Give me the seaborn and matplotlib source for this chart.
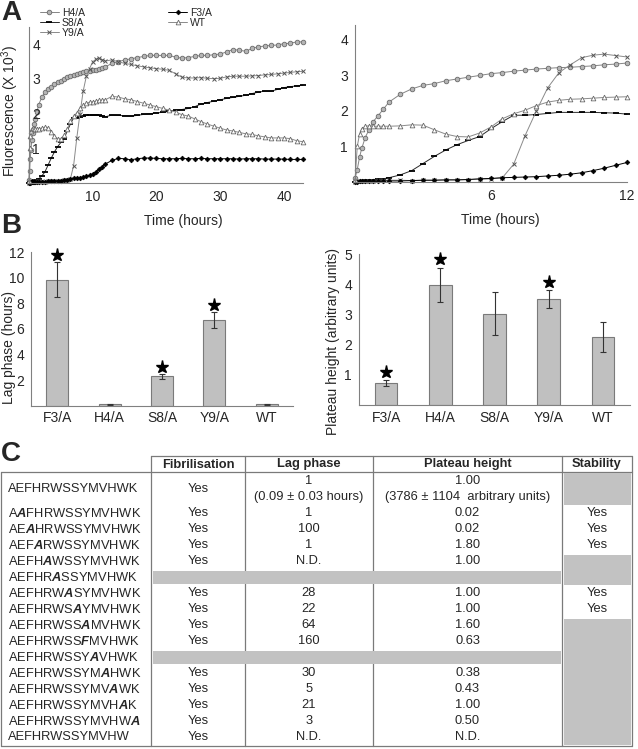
import matplotlib
matplotlib.use("Agg")
import numpy as np
import pandas as pd
import matplotlib.pyplot as plt
import seaborn as sns
from matplotlib.patches import Rectangle

sns.set_style("white")
plt.rcParams["font.family"] = ["Liberation Sans", "DejaVu Sans"]
plt.rcParams["mathtext.fontset"] = "custom"
plt.rcParams["mathtext.rm"] = "Liberation Sans"
plt.rcParams["mathtext.it"] = "Liberation Sans:italic"
plt.rcParams["mathtext.bf"] = "Liberation Sans:bold:italic"

# ---------------- data: panel A (fluorescence x10^3 vs time) ----------------
time_h = [0, 0.1, 0.2, 0.3, 0.45, 0.6, 0.8, 1.0, 1.25, 1.5,
          2, 2.5, 3, 3.5, 4, 4.5, 5, 5.5, 6, 6.5,
          7, 7.5, 8, 8.5, 9, 9.5, 10, 10.5, 11, 11.5, 12,
          13, 14, 15, 16, 17, 18, 19, 20, 21, 22, 23, 24, 25, 26, 27, 28,
          29, 30, 31, 32, 33, 34, 35, 36, 37, 38, 39, 40, 41, 42, 43]
h4a = [0.10, 0.35, 0.70, 0.95, 1.25, 1.45, 1.70, 1.85, 2.05, 2.25,
       2.47, 2.62, 2.72, 2.77, 2.85, 2.90, 2.95, 3.00, 3.05, 3.08,
       3.12, 3.15, 3.18, 3.20, 3.22, 3.23, 3.25, 3.27, 3.30, 3.32, 3.35,
       3.45, 3.50, 3.55, 3.58, 3.62, 3.65, 3.68, 3.68, 3.68, 3.68, 3.63, 3.60, 3.62, 3.65, 3.68, 3.68,
       3.70, 3.72, 3.78, 3.85, 3.83, 3.80, 3.88, 3.93, 3.95, 3.97, 3.98, 4.02, 4.03, 4.07, 4.07]
s8a = [0.00, 0.02, 0.03, 0.04, 0.05, 0.06, 0.07, 0.08, 0.09, 0.12,
       0.20, 0.32, 0.52, 0.72, 0.90, 1.05, 1.17, 1.28, 1.50, 1.70,
       1.88, 1.88, 1.90, 1.93, 1.96, 1.96, 1.96, 1.96, 1.95, 1.94, 1.91,
       1.96, 1.95, 1.94, 1.93, 1.95, 1.98, 2.00, 2.02, 2.04, 2.07, 2.10, 2.12, 2.15, 2.20, 2.28, 2.32,
       2.36, 2.40, 2.44, 2.47, 2.50, 2.53, 2.58, 2.62, 2.65, 2.65, 2.70, 2.75, 2.78, 2.80, 2.82]
y9a = [0.00, 0.02, 0.03, 0.03, 0.04, 0.04, 0.04, 0.05, 0.05, 0.05,
       0.05, 0.04, 0.05, 0.05, 0.06, 0.06, 0.07, 0.08, 0.09, 0.12,
       0.50, 1.30, 2.00, 2.65, 3.08, 3.30, 3.50, 3.57, 3.60, 3.56, 3.52,
       3.55, 3.50, 3.45, 3.42, 3.38, 3.35, 3.32, 3.30, 3.28, 3.25, 3.15, 3.05, 3.03, 3.03, 3.04, 3.02,
       3.01, 3.02, 3.06, 3.08, 3.08, 3.08, 3.09, 3.10, 3.12, 3.13, 3.15, 3.17, 3.19, 3.21, 3.22]
f3a = [0.00, 0.01, 0.02, 0.02, 0.02, 0.03, 0.03, 0.03, 0.03, 0.03,
       0.03, 0.04, 0.05, 0.05, 0.06, 0.06, 0.07, 0.09, 0.10, 0.12,
       0.13, 0.14, 0.15, 0.17, 0.19, 0.22, 0.26, 0.32, 0.39, 0.47, 0.55,
       0.65, 0.71, 0.70, 0.67, 0.70, 0.72, 0.72, 0.71, 0.70, 0.70, 0.70, 0.71, 0.70, 0.70, 0.71, 0.70,
       0.70, 0.70, 0.70, 0.70, 0.69, 0.70, 0.70, 0.70, 0.69, 0.69, 0.69, 0.69, 0.68, 0.68, 0.68]
wt = [0.05, 1.00, 1.35, 1.50, 1.57, 1.58, 1.57, 1.57, 1.57, 1.57,
      1.58, 1.61, 1.60, 1.47, 1.35, 1.28, 1.27, 1.38, 1.55, 1.78,
      1.92, 2.02, 2.15, 2.25, 2.30, 2.33, 2.34, 2.36, 2.38, 2.39, 2.40,
      2.50, 2.48, 2.43, 2.40, 2.35, 2.30, 2.25, 2.20, 2.15, 2.10, 2.05, 1.97, 1.93, 1.85, 1.77, 1.70,
      1.64, 1.58, 1.53, 1.50, 1.46, 1.42, 1.40, 1.36, 1.33, 1.30, 1.30, 1.30, 1.28, 1.22, 1.19]

series_names = ["H4/A", "S8/A", "Y9/A", "F3/A", "WT"]

# ---------------- data: panel B ----------------
mutants = ["F3/A", "H4/A", "S8/A", "Y9/A", "WT"]
lag_mean = [9.85, 0.09, 2.30, 6.70, 0.09]
lag_err = [1.35, 0.03, 0.20, 0.65, 0.03]
lag_signif = [True, False, True, True, False]
plateau_mean = [0.73, 3.98, 3.02, 3.50, 2.25]
plateau_err = [0.10, 0.57, 0.71, 0.30, 0.50]
plateau_signif = [True, True, False, True, False]

# ---------------- data: panel C (table) ----------------
col_headers = ["Fibrilisation", "Lag phase", "Plateau height", "Stability"]
sequences = ["AEFHRWSSYMVHWK", "AAFHRWSSYMVHWK", "AEAHRWSSYMVHWK", "AEFARWSSYMVHWK",
             "AEFHAWSSYMVHWK", "AEFHRASSYMVHWK", "AEFHRWASYMVHWK", "AEFHRWSAYMVHWK",
             "AEFHRWSSAMVHWK", "AEFHRWSSFMVHWK", "AEFHRWSSYAVHWK", "AEFHRWSSYMAHWK",
             "AEFHRWSSYMVAWK", "AEFHRWSSYMVHAK", "AEFHRWSSYMVHWA", "AEFHRWSSYMVHW"]
mutated_pos = [None, 1, 2, 3, 4, 5, 6, 7, 8, 8, 9, 10, 11, 12, 13, None]
fibrilisation = ["Yes", "Yes", "Yes", "Yes", "Yes", None, "Yes", "Yes", "Yes", "Yes",
                 None, "Yes", "Yes", "Yes", "Yes", "Yes"]
lag_phase = ["1\n(0.09 ± 0.03 hours)", "1", "100", "1", "N.D.", None, "28", "22", "64", "160",
             None, "30", "5", "21", "3", "N.D."]
plateau_height = ["1.00\n(3786 ± 1104  arbitrary units)", "0.02", "0.02", "1.80", "1.00", None,
                  "1.00", "1.00", "1.60", "0.63", None, "0.38", "0.43", "1.00", "0.50", "N.D."]
stability = [None, "Yes", "Yes", "Yes", None, None, "Yes", "Yes", None, None,
             None, None, None, None, None, None]

# ---------------- figure ----------------
W, H = 638, 749
fig = plt.figure(figsize=(W / 100, H / 100), dpi=100)


def px_axes(x0, y0, x1, y1):
    return fig.add_axes([x0 / W, 1 - y1 / H, (x1 - x0) / W, (y1 - y0) / H])


def style(ax):
    for s in ["top", "right"]:
        ax.spines[s].set_visible(False)
    for s in ["left", "bottom"]:
        ax.spines[s].set_color("#808080")
        ax.spines[s].set_linewidth(0.8)
    ax.tick_params(axis="both", length=3, width=0.7, color="#808080",
                   labelsize=10, pad=2, direction="out")


def place_ylabel(ax, x_center_px, y_frac, x0_px, width_px):
    # put the rotated label's centre at the given pixel column
    ax.yaxis.label.set_verticalalignment("center")
    ax.yaxis.set_label_coords((x_center_px - x0_px) / width_px, y_frac)


df = pd.DataFrame({"time": time_h, "H4/A": h4a, "S8/A": s8a, "Y9/A": y9a,
                   "F3/A": f3a, "WT": wt})

line_styles = {
    "H4/A": dict(color="#858585", marker="o", markersize=3.3, markerfacecolor="#b5b5b5",
                 markeredgecolor="#6a6a6a", markeredgewidth=0.6),
    "S8/A": dict(color="#2a2a2a", marker="_", markersize=4.5, markerfacecolor="black",
                 markeredgecolor="black", markeredgewidth=1.3),
    "Y9/A": dict(color="#8a8a8a", marker="x", markersize=3.0, markerfacecolor="#555555",
                 markeredgecolor="#555555", markeredgewidth=0.7),
    "F3/A": dict(color="black", marker="D", markersize=2.4, markerfacecolor="black",
                 markeredgecolor="black", markeredgewidth=0.5),
    "WT": dict(color="#8a8a8a", marker="^", markersize=3.4, markerfacecolor="white",
               markeredgecolor="#6a6a6a", markeredgewidth=0.6),
}


def draw_curves(ax, data):
    for name in series_names:
        sns.lineplot(data=data, x="time", y=name, ax=ax, estimator=None, label=name,
                     linewidth=0.7, clip_on=False, **line_styles[name])
    if ax.get_legend() is not None:
        ax.get_legend().remove()


# Panel A left
axA1 = px_axes(29, 27, 303, 183)
draw_curves(axA1, df)
style(axA1)
axA1.set_axisbelow(False)
axA1.set_xlim(0, 43)
axA1.set_ylim(0, 4.5)
axA1.set_xticks([10, 20, 30, 40])
axA1.set_yticks([1, 2, 3, 4])
# in the reference the y tick labels of this panel sit just inside the axis line
axA1.tick_params(axis="y", direction="in", length=0, pad=-2.5)
for lab in axA1.get_yticklabels():
    lab.set_horizontalalignment("left")
axA1.set_xlabel("Time (hours)", fontsize=10)
axA1.xaxis.set_label_coords(0.565, -0.2)
axA1.set_ylabel("Fluorescence (X 10$^{\\mathrm{3}}$)", fontsize=10)
place_ylabel(axA1, 10.5, 0.46, 29, 274)

# Panel A right
axA2 = px_axes(355, 25, 627, 182)
draw_curves(axA2, df[df["time"] <= 12])
style(axA2)
axA2.set_xlim(0, 12)
axA2.set_ylim(0, 4.42)
axA2.set_xticks([6, 12])
axA2.set_yticks([1, 2, 3, 4])
axA2.set_xlabel("Time (hours)", fontsize=10)
axA2.xaxis.set_label_coords(0.535, -0.2)
axA2.set_ylabel("")

handles, labels = axA1.get_legend_handles_labels()
fig.legend(handles, labels, loc="upper left", bbox_to_anchor=(40 / W, 1 - 8 / H),
           ncol=2, fontsize=7.5, frameon=False, labelspacing=0.0, handlelength=1.8,
           handletextpad=0.3, columnspacing=8.0, borderpad=0, borderaxespad=0)


# Panel B
def bar_panel(ax, means, errs, signif, ymax, yticks, ylabel, star_off):
    sns.barplot(x=mutants, y=means, ax=ax, color="#c0c0c0", saturation=1,
                edgecolor="#7a7a7a", linewidth=0.8, width=0.42, errorbar=None)
    xs = np.arange(len(mutants))
    ax.errorbar(xs, means, yerr=errs, fmt="none", ecolor="#333333",
                elinewidth=0.8, capsize=2.2, capthick=0.8)
    tops = np.array(means) + np.array(errs) + star_off * ymax
    sel = np.array(signif)
    ax.plot(xs[sel], tops[sel], linestyle="none", marker="*", color="black",
            markersize=9.5, clip_on=False)
    style(ax)
    ax.set_xlim(-0.5, len(mutants) - 0.5)
    ax.set_ylim(0, ymax)
    ax.set_yticks(yticks)
    ax.tick_params(axis="x", length=0, pad=4)
    ax.set_ylabel(ylabel, fontsize=10)
    ax.set_xlabel("")


axB1 = px_axes(31, 252, 293, 405.6)
bar_panel(axB1, lag_mean, lag_err, lag_signif, 12, [2, 4, 6, 8, 10, 12],
          "Lag phase (hours)", 0.045)
place_ylabel(axB1, 9, 0.38, 31, 262)

axB2 = px_axes(359, 254, 630, 405)
bar_panel(axB2, plateau_mean, plateau_err, plateau_signif, 5, [1, 2, 3, 4, 5],
          "Plateau height (arbitrary units)", 0.055)
place_ylabel(axB2, 333, 0.42, 359, 271)

# Overlay in pixel units (panel letters and table)
ov = fig.add_axes([0, 0, 1, 1])
ov.set_xlim(0, W)
ov.set_ylim(H, 0)
ov.axis("off")

for letter, yc in [("A", 13), ("B", 226), ("C", 454)]:
    ov.text(1, yc, letter, fontsize=20, fontweight="bold", ha="left", va="center")

# table geometry
col_edges = [1, 151, 245, 373, 562, 632]
header_top, header_bot = 456, 472
first_h, row_h = 33.5, 16.0
n = len(sequences)
tops = [header_bot] + [header_bot + first_h + i * row_h for i in range(n - 1)]
bots = [header_bot + first_h] + [header_bot + first_h + (i + 1) * row_h for i in range(n - 1)]
table_bot = bots[-1]
gray = "#c2c2c2"
lc = "#7a7a7a"

# grid lines
for x in col_edges[1:]:
    ov.plot([x, x], [header_top, table_bot], color=lc, lw=0.9, zorder=2)
ov.plot([col_edges[0], col_edges[0]], [header_bot, table_bot], color=lc, lw=0.9, zorder=2)
ov.plot([col_edges[1], col_edges[5]], [header_top, header_top], color=lc, lw=0.9, zorder=2)
ov.plot([col_edges[0], col_edges[5]], [header_bot, header_bot], color=lc, lw=0.9, zorder=2)
ov.plot([col_edges[0], col_edges[5]], [table_bot, table_bot], color=lc, lw=0.9, zorder=2)

# header texts
for j, h in enumerate(col_headers):
    xc = (col_edges[j + 1] + col_edges[j + 2]) / 2
    ov.text(xc, (header_top + header_bot) / 2 + 0.5, h, fontsize=9.3, fontweight="bold",
            ha="center", va="center", zorder=4)

# gray rows for missing fibrilisation data
for i in range(n):
    if fibrilisation[i] is None:
        ov.add_patch(Rectangle((col_edges[1] + 1.5, tops[i] + 1.0),
                               col_edges[4] - col_edges[1] - 2.5, bots[i] - tops[i] - 2.5,
                               facecolor=gray, edgecolor="none", zorder=3))

# gray blocks in the stability column (contiguous runs)
i = 0
while i < n:
    if stability[i] is None:
        j = i
        while j + 1 < n and stability[j + 1] is None:
            j += 1
        ov.add_patch(Rectangle((col_edges[4] + 2, tops[i] + 1.0),
                               col_edges[5] - col_edges[4] - 3, bots[j] - tops[i] - 2.0,
                               facecolor=gray, edgecolor="none", zorder=3))
        i = j + 1
    else:
        i += 1

# row texts
fs = 9.3
for i in range(n):
    yc = (tops[i] + bots[i]) / 2
    seq = sequences[i]
    p = mutated_pos[i]
    if p is not None:
        label = seq[:p] + r"$\mathbf{" + seq[p] + "}$" + seq[p + 1:]
    else:
        label = seq
    ov.text(col_edges[0] + 7, yc, label, fontsize=fs, ha="left", va="center", zorder=4)
    for j, col in enumerate([fibrilisation, lag_phase, plateau_height, stability]):
        val = col[i]
        if val is None:
            continue
        xc = (col_edges[j + 1] + col_edges[j + 2]) / 2
        lines = val.split("\n")
        if len(lines) == 1:
            ov.text(xc, yc, val, fontsize=fs, ha="center", va="center", zorder=4)
        else:
            ov.text(xc, yc - 7.5, lines[0], fontsize=fs, ha="center", va="center", zorder=4)
            ov.text(xc, yc + 8.5, lines[1], fontsize=fs, ha="center", va="center", zorder=4)

fig.savefig("out.png", dpi=100)
